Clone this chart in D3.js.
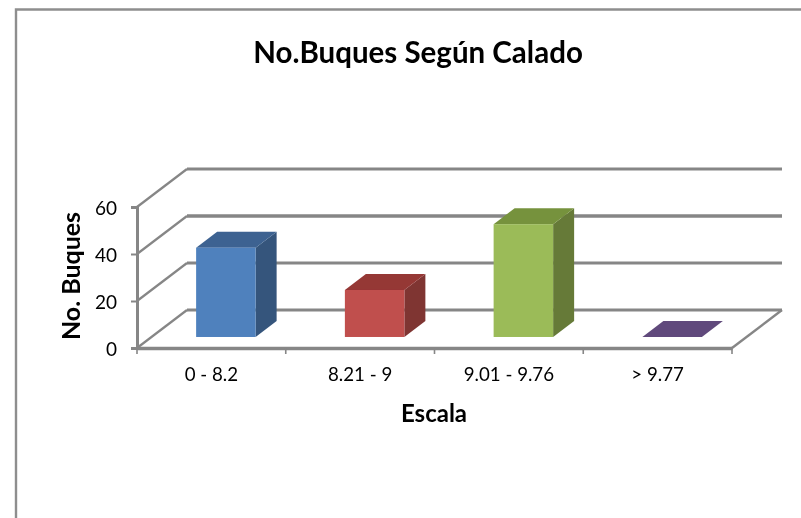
<!DOCTYPE html>
<html>
<head>
<meta charset="utf-8">
<title>No.Buques Según Calado</title>
<script src="https://cdn.jsdelivr.net/npm/d3@7"></script>
<style>
  html, body { margin: 0; padding: 0; background: #fff; overflow: hidden; }
  svg { display: block; }
  text { font-family: Lato, "Open Sans", sans-serif; fill: #000; }
</style>
</head>
<body>
<div id="chart"></div>
<script>
const categories = ["0 - 8.2", "8.21 - 9", "9.01 - 9.76", "> 9.77"];
const values = [38, 20, 48, 0];
const yTicks = [0, 20, 40, 60];
const frontColors = ["#4f81bd", "#c0504d", "#9bbb59", "#8064a2"];
const sideColors = ["#35557c", "#7f3432", "#667a39", "#54406d"];
const topColors = ["#3c6291", "#953735", "#76923c", "#604a7b"];

const width = 801, height = 518;
const left = 137, right = 732, floorY = 348, topY = 207;
// how far the back wall sits from the front plane
const depthX = 50, depthY = -38;
const barDepth = 0.29, barDepthEnd = 0.71;
const grey = "#868686";

const x = d3.scaleBand().domain(categories).range([left, right]).paddingInner(0.6).paddingOuter(0.3);
const xBand = d3.scaleBand().domain(categories).range([left, right]);
const y = d3.scaleLinear().domain([0, 60]).range([floorY, topY]);

const svg = d3.select("#chart").append("svg")
    .attr("width", width)
    .attr("height", height);

svg.append("defs").append("filter")
    .attr("id", "soft")
    .append("feGaussianBlur")
    .attr("stdDeviation", 0.45);

const root = svg.append("g").attr("filter", "url(#soft)");

// chart frame, runs off the page at right and bottom
root.append("path")
    .attr("d", `M16,${height + 5}V9.5H${width + 5}`)
    .attr("fill", "none")
    .attr("stroke", "#8e8e8e")
    .attr("stroke-width", 2.4);

// gridlines on side and back wall
const grid = root.append("g")
    .attr("fill", "none")
    .attr("stroke", grey);

grid.selectAll(".side")
    .data(yTicks)
    .enter()
    .append("path")
    .attr("class", "side")
    .attr("stroke-width", 2.2)
    .attr("d", d => `M${left},${y(d)}L${left + depthX},${y(d) + depthY}`);

grid.selectAll(".back")
    .data(yTicks)
    .enter()
    .append("path")
    .attr("class", "back")
    .attr("stroke-width", d => d === 40 ? 3.6 : 3)
    .attr("d", d => `M${left + depthX},${y(d) + depthY}H${right + depthX}`);

// floor edge on the right, then axes
grid.append("path")
    .attr("stroke-width", 2.4)
    .attr("d", `M${right},${floorY}L${right + depthX},${floorY + depthY}`);

const yAxis = d3.axisLeft(y).tickValues(yTicks).tickSize(6).tickPadding(14);
const xAxis = d3.axisBottom(xBand).tickSize(0).tickPadding(20);

const yG = root.append("g")
    .attr("transform", `translate(${left},0)`)
    .call(yAxis);
yG.select(".domain").attr("stroke", grey).attr("stroke-width", 3);
yG.selectAll("line").attr("stroke", grey).attr("stroke-width", 2);
yG.selectAll("text")
    .attr("dy", "0.38em")
    .style("font-size", "19px")
    .style("font-family", "Lato, sans-serif");

const xG = root.append("g")
    .attr("transform", `translate(0,${floorY})`)
    .call(xAxis);
xG.select(".domain").attr("stroke", grey).attr("stroke-width", 3.4);
xG.selectAll("text")
    .style("font-size", "18.7px")
    .style("font-family", "Lato, sans-serif");

xG.selectAll(".edge")
    .data(categories.map(c => xBand(c)).concat(right))
    .enter()
    .append("line")
    .attr("class", "edge")
    .attr("x1", d => d)
    .attr("x2", d => d)
    .attr("y1", 0)
    .attr("y2", 6)
    .attr("stroke", grey)
    .attr("stroke-width", 1.6);

// bars
const bx = barDepth * depthX, by = barDepth * depthY;
const dx = (barDepthEnd - barDepth) * depthX, dy = (barDepthEnd - barDepth) * depthY;

const bars = root.selectAll(".bar")
    .data(categories.map((c, i) => ({c: c, v: values[i], i: i})))
    .enter()
    .append("g")
    .attr("class", "bar");

bars.append("path")
    .attr("fill", d => sideColors[d.i])
    .attr("d", d => {
        const r = x(d.c) + x.bandwidth() + bx;
        return `M${r},${y(0) + by}V${y(d.v) + by}l${dx},${dy}V${y(0) + by + dy}Z`;
    });

bars.append("path")
    .attr("fill", d => topColors[d.i])
    .attr("d", d => {
        const l = x(d.c) + bx;
        return `M${l},${y(d.v) + by}l${dx},${dy}h${x.bandwidth()}l${-dx},${-dy}Z`;
    });

bars.append("rect")
    .attr("fill", d => frontColors[d.i])
    .attr("x", d => x(d.c) + bx)
    .attr("y", d => y(d.v) + by)
    .attr("width", x.bandwidth())
    .attr("height", d => y(0) - y(d.v));

// titles
root.append("text")
    .attr("x", 418)
    .attr("y", 63)
    .attr("text-anchor", "middle")
    .style("font-size", "29.5px")
    .style("font-weight", 700)
    .text("No.Buques Según Calado");

root.append("text")
    .attr("x", 434)
    .attr("y", 422)
    .attr("text-anchor", "middle")
    .style("font-size", "24px")
    .style("font-weight", 700)
    .text("Escala");

root.append("text")
    .attr("transform", "translate(80,276) rotate(-90)")
    .attr("text-anchor", "middle")
    .style("font-size", "25px")
    .style("font-weight", 700)
    .text("No. Buques");
</script>
</body>
</html>
